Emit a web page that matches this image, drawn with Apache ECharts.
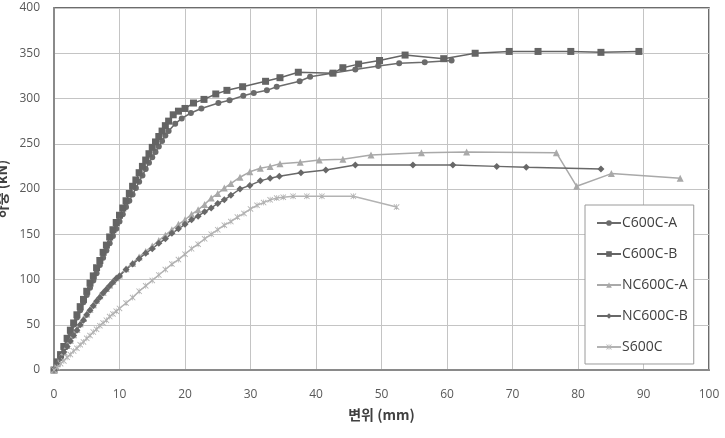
<!DOCTYPE html>
<html>
<head>
<meta charset="utf-8">
<script src="https://cdn.jsdelivr.net/npm/echarts@6/dist/echarts.min.js"></script>
<style>
  html, body { margin: 0; padding: 0; background: #fff; }
  #chart { width: 725px; height: 438px; }
</style>
</head>
<body>
<div id="chart"></div>
<script>
// 하중-변위 곡선 (읽어낸 값)
var c600cAx = [0,0.5,1,1.5,2,2.5,3,3.5,4,4.5,5,5.5,6,6.5,7,7.5,8,8.5,9,9.5,10,10.5,11,11.5,12,12.5,13,13.5,14,14.5,15,15.5,16,16.5,17,17.5,18.5,19.5,20.9,22.5,25.1,26.8,28.9,30.5,32.5,34,37.5,39.1,42.4,46,49.5,52.7,56.6,60.7];
var c600cAy = [0,8,16,25,33,41,50,58,66,75,83,91,99,107,116,124,132,140,148,156,164,172,180,187,194,201,208,215,222,229,235,241,247,253,259,264,272,278,284,289,295,298,303,306,309,313,319,324,328,332,336,339,340,342];

var c600cBx = [0,0.5,1,1.5,2,2.5,3,3.5,4,4.5,5,5.5,6,6.5,7,7.5,8,8.5,9,9.5,10,10.5,11,11.5,12,12.5,13,13.5,14,14.5,15,15.5,16,16.5,17,17.5,18.2,19,20,21.3,22.9,24.7,26.4,28.8,32.3,34.5,37.3,42.6,44.1,46.5,49.7,53.6,59.5,64.3,69.5,73.9,78.9,83.5,89.3];
var c600cBy = [0,9,17,26,35,44,52,61,70,78,87,96,104,113,121,130,138,147,155,163,171,179,187,195,203,210,218,225,232,239,246,252,258,264,270,275,282,286,289,295,299,305,309,313,319,323,329,328,334,338,342,348,344,350,352,352,352,351,352];

var nc600cAx = [0,0.5,1,1.5,2,2.5,3,3.5,4,4.5,5,5.5,6,6.5,7,7.5,8,8.5,9,9.5,10,11,12,13,14,15,16,17,18,19,20,21,22,23,24,25,26,27,28.4,29.9,31.5,33,34.5,37.6,40.5,44.1,48.4,56.1,63,76.7,79.8,85.1,95.6];
var nc600cAy = [0,7,14,20,27,33,39,45,51,57,62,67,72,77,82,86,90,94,98,102,105,112,118,125,131,137,143,149,155,161,166,172,177,183,190,195,201,206,213,219,223,225,228,229.5,232,233,237.5,240,241,240,203,217,212];

var nc600cBx = [0,0.5,1,1.5,2,2.5,3,3.5,4,4.5,5,5.5,6,6.5,7,7.5,8,8.5,9,9.5,10,11,12,13,14,15,16,17,18,19,20,21,22,23,24,25,26,27,28.4,29.9,31.5,33,34.4,37.7,41.5,46,54.8,60.9,67.6,72.1,83.5];
var nc600cBy = [0,7,13,20,26,32,38,44,50,55,61,66,71,76,80,85,89,93,97,101,104,111,117,123,129,134,140,145,151,156,161,166,170,175,179,184,188,193,200,204,209,212,214,218,221,226.5,226.5,226.5,225,224,222];

var s600cX = [0,0.5,1,1.5,2,2.5,3,3.5,4,4.5,5,5.5,6,6.5,7,7.5,8,8.5,9,9.5,10,11,12,13,14,15,16,17,18,19,20,21,22,23,24,25,26,27,28,29,30,31,32,33,34,35,36.5,38.6,40.9,45.7,52.3];
var s600cY = [0,3,7,10,14,17,21,24,28,31,35,38,42,45,49,52,55,59,62,65,68,74,80,87,93,99,105,111,117,122,128,134,139,145,150,155,160,164,169,173,178,182,185,188,190,191,192,192,192,192,180];

var seriesNames = ['C600C-A', 'C600C-B', 'NC600C-A', 'NC600C-B', 'S600C'];
var xTicks = [0, 100, 10];
var yTicks = [0, 400, 50];

function pairs(xs, ys) {
  var out = [];
  for (var i = 0; i < xs.length; i++) out.push([xs[i], ys[i]]);
  return out;
}

// 별표(*) 마커
var starPath = 'path://M1,0L5,4L9,0L10,1L6,5L10,9L9,10L5,6L1,10L0,9L4,5L0,1Z M4.4,0H5.6V10H4.4Z';

function makeSeries(name, data, symbol, size, color, lw) {
  return {
    name: name,
    type: 'line',
    data: data,
    symbol: symbol,
    symbolSize: size,
    showAllSymbol: true,
    lineStyle: { color: color, width: lw },
    itemStyle: { color: color },
    animation: false
  };
}

var chart = echarts.init(document.getElementById('chart'));
var option = {
  backgroundColor: '#fff',
  textStyle: { fontFamily: '"Open Sans", "Noto Sans CJK KR", sans-serif' },
  grid: {
    left: 54, right: 16, top: 8, bottom: 68,
    outerBoundsMode: 'none',
    containLabel: false,
    show: true, borderColor: '#3c3c3c', borderWidth: 1.5
  },
  legend: {
    orient: 'vertical',
    left: 585, top: 205,
    padding: [11, 6, 10, 11],
    itemGap: 17,
    itemWidth: 24,
    itemHeight: 7,
    backgroundColor: '#fff',
    borderColor: '#9a9a9a',
    borderWidth: 1,
    textStyle: { color: '#404040', fontSize: 14, padding: [0, 0, 0, -4] },
    data: seriesNames
  },
  xAxis: {
    type: 'value',
    min: xTicks[0], max: xTicks[1], interval: xTicks[2],
    name: '변위 (mm)',
    nameLocation: 'middle',
    nameGap: 38,
    nameTextStyle: { fontSize: 14, fontWeight: 'bold', color: '#404040', fontFamily: '"Noto Sans CJK KR", sans-serif' },
    axisLine: { lineStyle: { color: '#8a8a8a', width: 2 } },
    axisTick: { show: false },
    axisLabel: { color: '#595959', fontSize: 12, margin: 19 },
    splitLine: { lineStyle: { color: '#c4c4c4', width: 1 } }
  },
  yAxis: {
    type: 'value',
    min: yTicks[0], max: yTicks[1], interval: yTicks[2],
    name: '하중 (kN)',
    nameLocation: 'middle',
    nameRotate: 90,
    nameGap: 41,
    nameTextStyle: { fontSize: 14, fontWeight: 'bold', color: '#404040', fontFamily: '"Noto Sans CJK KR", sans-serif' },
    axisLine: { show: true, lineStyle: { color: '#8a8a8a', width: 2 } },
    axisTick: { show: false },
    axisLabel: { color: '#595959', fontSize: 12, margin: 14 },
    splitLine: { lineStyle: { color: '#c4c4c4', width: 1 } }
  },
  series: [
    makeSeries(seriesNames[0], pairs(c600cAx, c600cAy), 'circle', 6, '#6b6b6b', 1.5),
    makeSeries(seriesNames[1], pairs(c600cBx, c600cBy), 'rect', 7, '#646464', 1.5),
    makeSeries(seriesNames[2], pairs(nc600cAx, nc600cAy), 'triangle', 7, '#a9a9a9', 1.5),
    makeSeries(seriesNames[3], pairs(nc600cBx, nc600cBy), 'diamond', 7, '#686868', 1.5),
    makeSeries(seriesNames[4], pairs(s600cX, s600cY), starPath, 6, '#b3b3b3', 1.5)
  ]
};
chart.setOption(option);
</script>
</body>
</html>
